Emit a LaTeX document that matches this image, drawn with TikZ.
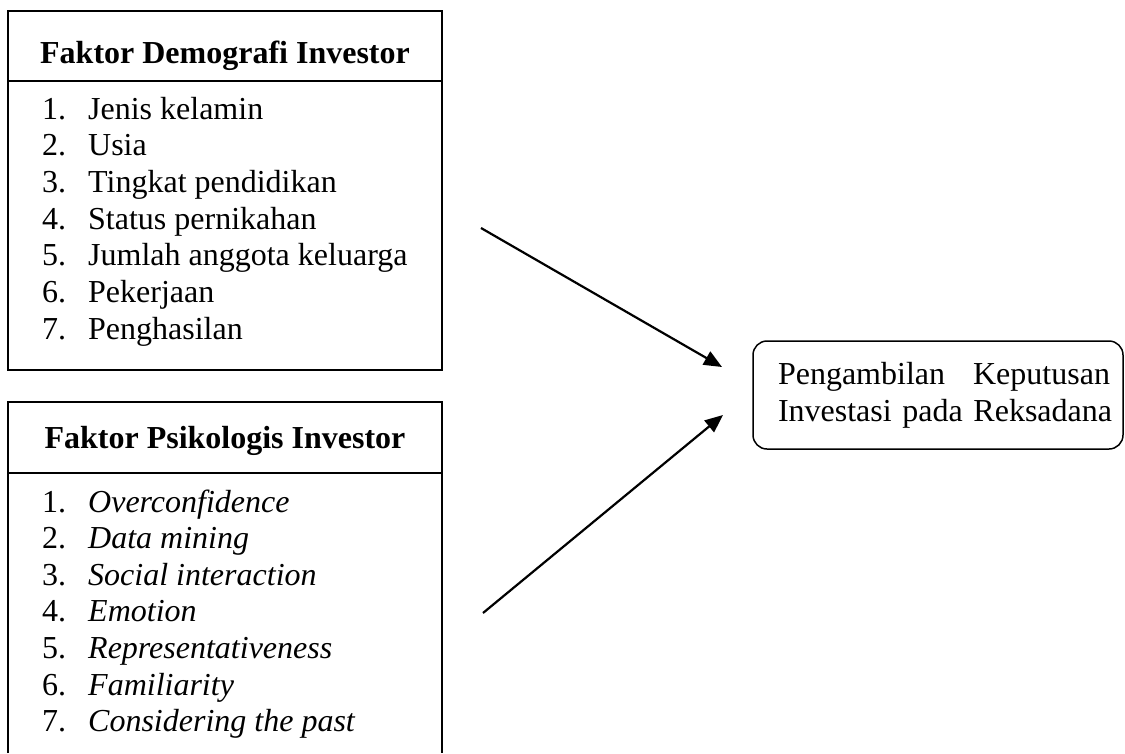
\documentclass[tikz,border=0pt]{standalone}
\usepackage{fontspec}
\setmainfont{Liberation Serif}
\usetikzlibrary{arrows.meta}
\tikzset{
  boxline/.style={line width=1.6pt},
  itemtext/.style={anchor=base west, inner sep=0pt, font=\fontsize{32}{36.7}\selectfont},
  headtext/.style={anchor=base, inner sep=0pt, font=\fontsize{32}{36.7}\selectfont\bfseries},
  flowarrow/.style={line width=2.2pt, -{Triangle[length=18pt,width=15pt]}},
  decbox/.style={draw, line width=1.5pt, rounded corners=14pt, minimum width=370pt,
    minimum height=108pt, text width=320pt, align=left, inner sep=0pt,
    font=\fontsize{32}{36.7}\selectfont}
}
\begin{document}
\begin{tikzpicture}[x=1pt,y=-1pt]
\useasboundingbox (0,0) rectangle (1125,753);
% box 1
\node[boxline, draw, minimum width=434pt, minimum height=359pt, inner sep=0pt] (demo) at (225,190.5) {};
\coordinate (d1) at (8,81);
\coordinate (d2) at (442,81);
\draw[boxline] (d1) -- (d2);
\node[headtext] (demohead) at (225,63) {Faktor Demografi Investor};
\foreach \t [count=\i from 0] in {Jenis kelamin,Usia,Tingkat pendidikan,Status pernikahan,Jumlah anggota keluarga,Pekerjaan,Penghasilan}{
  \pgfmathtruncatemacro{\n}{\i+1}
  \node[itemtext] (dem\n) at (42,119+36.7*\i) {\makebox[46pt][l]{\n.}\t};
}
% box 2 (open at bottom)
\coordinate (p1) at (8,753);
\coordinate (p2) at (8,402);
\coordinate (p3) at (442,402);
\coordinate (p4) at (442,753);
\draw[boxline] (p1) -- (p2) -- (p3) -- (p4);
\coordinate (q1) at (8,473);
\coordinate (q2) at (442,473);
\draw[boxline] (q1) -- (q2);
\node[headtext] (psyhead) at (225,448) {Faktor Psikologis Investor};
\foreach \t [count=\i from 0] in {Overconfidence,Data mining,Social interaction,Emotion,Representativeness,Familiarity,Considering the past}{
  \pgfmathtruncatemacro{\n}{\i+1}
  \node[itemtext] (psy\n) at (42,512+36.6*\i) {\makebox[46pt][l]{\n.}\textit{\t}};
}
% decision box
\node[decbox] (dec) at (938,395) {\makebox[320pt][l]{\makebox[332pt][l]{Pengambilan\hfill Keputusan}}\\\makebox[320pt][l]{Investasi pada Reksadana}};
% arrows
\coordinate (a1s) at (481,228);
\coordinate (a1e) at (722,367);
\coordinate (a2s) at (483,613);
\coordinate (a2e) at (723,415);
\draw[flowarrow] (a1s) -- (a1e);
\draw[flowarrow] (a2s) -- (a2e);
\end{tikzpicture}
\end{document}
